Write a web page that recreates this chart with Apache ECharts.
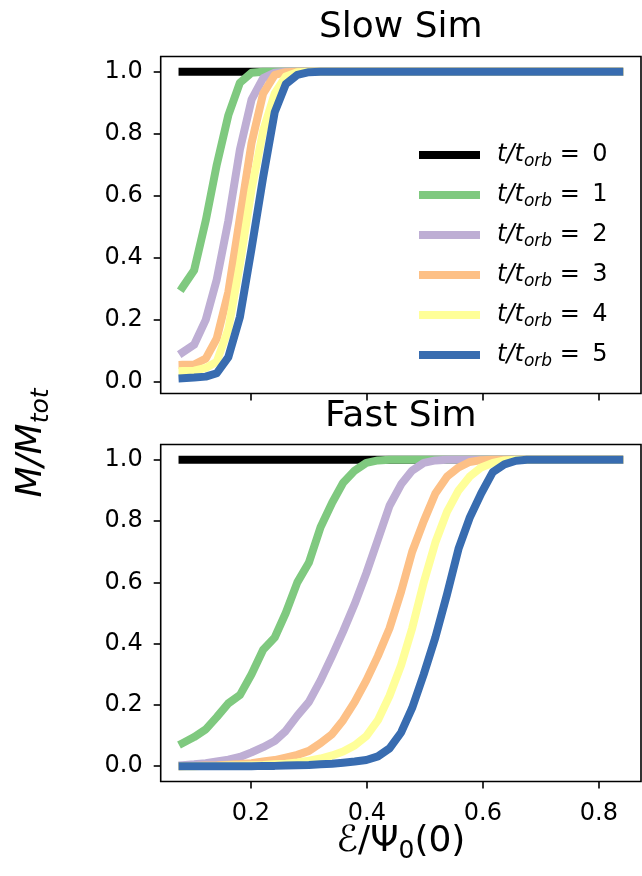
<!DOCTYPE html>
<html><head><meta charset="utf-8">
<script src="https://cdn.jsdelivr.net/npm/echarts@6/dist/echarts.min.js"></script>
<style>html,body{margin:0;padding:0;background:#fff}#c{width:642px;height:876px}</style>
</head><body><div id="c"></div>
<script>
// ---- data ----
const energy = [0.082,0.102,0.122,0.141,0.161,0.181,0.201,0.221,0.241,0.260,
  0.280,0.300,0.320,0.340,0.359,0.379,0.399,0.419,0.439,0.459,
  0.478,0.498,0.518,0.538,0.558,0.577,0.597,0.617,0.637,0.657,
  0.676,0.696,0.716,0.736,0.756,0.775,0.795,0.815,0.835];

const seriesNames = ['t/t_orb = 0','t/t_orb = 1','t/t_orb = 2','t/t_orb = 3','t/t_orb = 4','t/t_orb = 5'];
const orbitLabels = ['0','1','2','3','4','5'];
const colors = ['#000000','#7fc97f','#beaed4','#fdc086','#ffff99','#386cb0'];

const slow_t0 = [1,1,1,1,1,1,1,1,1,1, 1,1,1,1,1,1,1,1,1,1, 1,1,1,1,1,1,1,1,1,1, 1,1,1,1,1,1,1,1,1];
const slow_t1 = [0.305,0.36,0.52,0.70,0.86,0.965,0.997,1,1,1, 1,1,1,1,1,1,1,1,1,1, 1,1,1,1,1,1,1,1,1,1, 1,1,1,1,1,1,1,1,1];
const slow_t2 = [0.095,0.12,0.20,0.33,0.52,0.75,0.91,0.98,0.997,1, 1,1,1,1,1,1,1,1,1,1, 1,1,1,1,1,1,1,1,1,1, 1,1,1,1,1,1,1,1,1];
const slow_t3 = [0.055,0.056,0.075,0.14,0.29,0.53,0.77,0.93,0.99,0.999, 1,1,1,1,1,1,1,1,1,1, 1,1,1,1,1,1,1,1,1,1, 1,1,1,1,1,1,1,1,1];
const slow_t4 = [0.035,0.036,0.045,0.065,0.17,0.38,0.62,0.81,0.93,0.985, 0.999,1,1,1,1,1,1,1,1,1, 1,1,1,1,1,1,1,1,1,1, 1,1,1,1,1,1,1,1,1];
const slow_t5 = [0.012,0.014,0.017,0.028,0.08,0.21,0.43,0.66,0.87,0.96, 0.99,0.999,1,1,1,1,1,1,1,1, 1,1,1,1,1,1,1,1,1,1, 1,1,1,1,1,1,1,1,1];

const fast_t0 = [1,1,1,1,1,1,1,1,1,1, 1,1,1,1,1,1,1,1,1,1, 1,1,1,1,1,1,1,1,1,1, 1,1,1,1,1,1,1,1,1];
const fast_t1 = [0.075,0.095,0.12,0.16,0.205,0.232,0.30,0.38,0.42,0.50, 0.60,0.665,0.78,0.86,0.925,0.965,0.99,0.998,1,1, 1,1,1,1,1,1,1,1,1,1, 1,1,1,1,1,1,1,1,1];
const fast_t2 = [0.003,0.006,0.01,0.015,0.021,0.03,0.045,0.062,0.082,0.115, 0.165,0.21,0.28,0.36,0.44,0.53,0.63,0.74,0.85,0.92, 0.965,0.99,0.998,1,1,1,1,1,1,1, 1,1,1,1,1,1,1,1,1];
const fast_t3 = [0,0.001,0.002,0.003,0.005,0.007,0.01,0.015,0.02,0.028, 0.037,0.05,0.075,0.105,0.15,0.21,0.28,0.36,0.45,0.57, 0.70,0.80,0.89,0.945,0.975,0.993,0.999,1,1,1, 1,1,1,1,1,1,1,1,1];
const fast_t4 = [0,0,0.001,0.001,0.002,0.002,0.003,0.004,0.006,0.008, 0.012,0.018,0.025,0.035,0.048,0.068,0.098,0.15,0.23,0.33, 0.45,0.60,0.73,0.83,0.90,0.945,0.975,0.99,0.998,1, 1,1,1,1,1,1,1,1,1];
const fast_t5 = [0,0,0,0,0,0,0,0.001,0.001,0.002, 0.003,0.004,0.006,0.008,0.011,0.015,0.02,0.032,0.058,0.11, 0.19,0.30,0.42,0.56,0.71,0.81,0.89,0.96,0.985,0.997, 1,1,1,1,1,1,1,1,1];

const xTicks = [0.2,0.4,0.6,0.8];
const yTicks = [0,0.2,0.4,0.6,0.8,1.0];

const slowSets = [slow_t0,slow_t1,slow_t2,slow_t3,slow_t4,slow_t5];
const fastSets = [fast_t0,fast_t1,fast_t2,fast_t3,fast_t4,fast_t5];

// ---- layout / style ----
const FONT = 'DejaVu Sans';
const chart = echarts.init(document.getElementById('c'), null, {renderer:'canvas', width:642, height:876});

function mkSeries(sets, idx){
  return sets.map((vals,k)=>({
    type:'line', name:seriesNames[k], xAxisIndex:idx, yAxisIndex:idx,
    data: energy.map((x,i)=>[x, vals[i]]),
    showSymbol:false, symbol:'none', silent:true, animation:false,
    color: colors[k], itemStyle:{color:colors[k]},
    lineStyle:{color:colors[k], width:8, cap:'square', join:'round'}
  }));
}

function mkX(idx, showLabels){
  return {
    type:'value', gridIndex:idx, min:0.04435, max:0.87265,
    axisLine:{show:false, onZero:false},
    splitLine:{show:false},
    axisTick:{show:true, length:7, customValues:xTicks, lineStyle:{color:'#000', width:1.6}},
    axisLabel:{show:showLabels, customValues:xTicks, margin:20, fontFamily:FONT, fontSize:24, color:'#000',
      formatter:v=>Number(v).toFixed(1)}
  };
}
function mkY(idx, min, max){
  return {
    type:'value', gridIndex:idx, min:min, max:max,
    axisLine:{show:false, onZero:false},
    splitLine:{show:false},
    axisTick:{show:true, length:7, customValues:yTicks, lineStyle:{color:'#000', width:1.6}},
    axisLabel:{show:true, customValues:yTicks, margin:18, fontFamily:FONT, fontSize:24, color:'#000',
      formatter:v=>Number(v).toFixed(1)}
  };
}

const mainRich = (fs, lh) => ({fontFamily:FONT, fontSize:fs, lineHeight:lh, verticalAlign:'middle', fill:'#000'});

const option = {
  backgroundColor:'#ffffff',
  animation:false,
  grid:[
    {left:160.7, top:56.5, width:480.3, height:337, show:true, borderColor:'#000', borderWidth:1.6, backgroundColor:'transparent', containLabel:false, outerBoundsMode:'none'},
    {left:160.7, top:444.5, width:480.3, height:337, show:true, borderColor:'#000', borderWidth:1.6, backgroundColor:'transparent', containLabel:false, outerBoundsMode:'none'}
  ],
  xAxis:[mkX(0,false), mkX(1,true)],
  yAxis:[mkY(0,-0.0374,1.0494), mkY(1,-0.05,1.05)],
  legend:{
    data:seriesNames, orient:'vertical', left:419, top:143, padding:0,
    icon:'rect', itemWidth:61, itemHeight:8, itemGap:13, selectedMode:false,
    itemStyle:{borderWidth:0},
    formatter: name => {
      const k = seriesNames.indexOf(name);
      return '{a|t/t}{s|orb}{b| = \u2009' + orbitLabels[k] + '}';
    },
    textStyle:{
      fontFamily:FONT, fontSize:24, color:'#000',
      rich:{
        a:{fontFamily:FONT, fontSize:24, fontStyle:'italic', lineHeight:30, verticalAlign:'middle', color:'#000', padding:[0,0,0,12]},
        s:{fontFamily:FONT, fontSize:17, fontStyle:'italic', lineHeight:19, verticalAlign:'bottom', color:'#000'},
        b:{fontFamily:FONT, fontSize:24, lineHeight:30, verticalAlign:'middle', color:'#000'}
      }
    }
  },
  graphic:[
    {type:'text', x:400.8, y:28, silent:true, style:{text:'Slow Sim', fontFamily:FONT, fontSize:36, fill:'#000', align:'center', verticalAlign:'middle'}},
    {type:'text', x:400.8, y:417, silent:true, style:{text:'Fast Sim', fontFamily:FONT, fontSize:36, fill:'#000', align:'center', verticalAlign:'middle'}},
    {type:'text', x:400.8, y:842, silent:true, style:{
      text:'{m|\u2130/\u03A8}{s|0}{m|(0)}', align:'center', verticalAlign:'middle',
      rich:{m:mainRich(36,44), s:{fontFamily:FONT, fontSize:25, lineHeight:28, verticalAlign:'bottom', fill:'#000'}}
    }},
    {type:'text', x:31.5, y:443, rotation:Math.PI/2, silent:true, style:{
      text:'{m|M/M}{s|tot}', align:'center', verticalAlign:'middle',
      rich:{m:Object.assign(mainRich(36,44),{fontStyle:'italic'}), s:{fontFamily:FONT, fontSize:25, fontStyle:'italic', lineHeight:28, verticalAlign:'bottom', fill:'#000'}}
    }}
  ],
  series:[...mkSeries(slowSets,0), ...mkSeries(fastSets,1)]
};
chart.setOption(option);
</script>
</body></html>
